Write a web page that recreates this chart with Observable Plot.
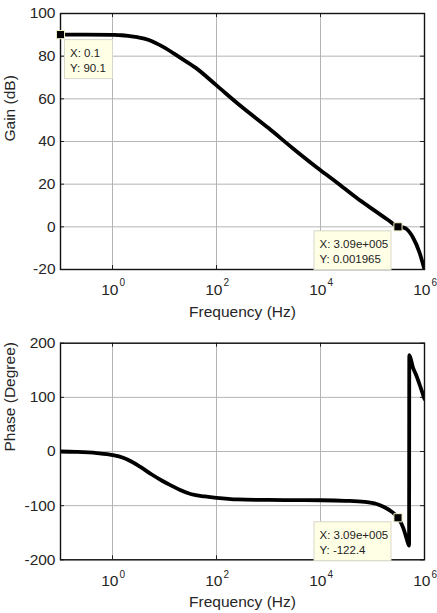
<!DOCTYPE html>
<html><head><meta charset="utf-8">
<script src="https://cdn.jsdelivr.net/npm/d3@7"></script>
<script src="https://cdn.jsdelivr.net/npm/@observablehq/plot@0.6"></script>
<style>
body{margin:0;background:#fff;}
#chart{width:437px;height:613px;}
#chart svg{display:block;overflow:visible;}
</style></head><body><div id="chart"></div>
<script>
// ---- data ----
const gainFreq = [0.1, 0.3, 1, 1.5, 2, 3, 5, 7, 10, 15, 20, 40, 100, 300, 1000, 3000, 10000, 20000, 50000, 100000, 200000, 309000, 400000, 460000, 600000, 800000, 1000000];
const gainDb   = [90.1, 90.1, 89.95, 89.8, 89.5, 88.9, 87.6, 86, 84, 81.3, 79.3, 74.5, 66.3, 56.4, 46.3, 36.6, 26.5, 21, 13.5, 8.3, 3.2, 0.001965, -0.4, -1.2, -5, -12, -20];
const phaseFreq = [0.1, 0.2, 0.5, 1, 1.6, 2.3, 3.5, 5.6, 9, 13.6, 20, 33, 60, 100, 260, 1000, 10000, 30000, 70000, 120000, 170000, 240000, 309000, 390000, 450000, 505000, 510000, 600000, 700000, 850000, 1000000];
const phaseDeg  = [0, -0.8, -3, -6.5, -11.5, -18.5, -29, -42, -54, -63, -71, -79, -83, -85.5, -88.5, -89.5, -90, -91, -93, -97, -103, -112, -122.4, -141, -160, -174, 178, 155, 140, 117, 97];
const xTicks = [1, 100, 10000, 1000000];
const gainTicks = [-20, 0, 20, 40, 60, 80, 100];
const phaseTicks = [-200, -100, 0, 100, 200];
const gainTips = [
  {x: 0.1, y: 90.1, lines: ["X: 0.1", "Y: 90.1"], side: "right"},
  {x: 309000, y: 0.001965, lines: ["X: 3.09e+005", "Y: 0.001965"], side: "left"}
];
const phaseTips = [
  {x: 309000, y: -122.4, lines: ["X: 3.09e+005", "Y: -122.4"], side: "left"}
];
const xLabel = "Frequency (Hz)";
const gainLabel = "Gain (dB)";
const phaseLabel = "Phase (Degree)";

const gain = gainFreq.map((f, i) => ({f, v: gainDb[i]}));
const phase = phaseFreq.map((f, i) => ({f, v: phaseDeg[i]}));

const FONT = "'Liberation Sans', Arial, sans-serif";
const TXT = "#262626";
const W = 437, ML = 60, MR = 13;
const PW = W - ML - MR;

function datatipBoxes(tips) {
  return (index, scales) => {
    const ns = "http://www.w3.org/2000/svg";
    const g = document.createElementNS(ns, "g");
    g.setAttribute("text-anchor", "start");
    for (const t of tips) {
      const x0 = scales.x(t.x), y0 = scales.y(t.y);
      const w = t.side === "right" ? 48 : 77, h = 39;
      const bx = t.side === "right" ? x0 + 4.5 : x0 - 6.5 - w;
      const by = t.side === "right" ? y0 + 5.5 : y0 + 4.5;
      const r = document.createElementNS(ns, "rect");
      r.setAttribute("x", bx); r.setAttribute("y", by);
      r.setAttribute("width", w); r.setAttribute("height", h);
      r.setAttribute("fill", "#ffffe6"); r.setAttribute("stroke", "#d8d8c8"); r.setAttribute("stroke-width", 1);
      g.appendChild(r);
      t.lines.forEach((s, i) => {
        const tx = document.createElementNS(ns, "text");
        tx.setAttribute("x", bx + 5.5);
        tx.setAttribute("y", by + 17.5 + i * 14.5);
        tx.setAttribute("text-anchor", "start");
        tx.setAttribute("font-family", FONT);
        tx.setAttribute("font-size", 11.5);
        tx.setAttribute("fill", "#222");
        tx.textContent = s;
        g.appendChild(tx);
      });
    }
    return g;
  };
}

function panel({data, yTicks, yDomain, yLabel, tips, height, mt, mb, tickDy}) {
  const PH = height - mt - mb;
  return Plot.plot({
    width: W, height, marginLeft: ML, marginRight: MR, marginTop: mt, marginBottom: mb,
    style: {fontFamily: FONT, background: "transparent", overflow: "visible"},
    x: {type: "log", domain: [0.1, 1e6], axis: null},
    y: {domain: yDomain, axis: null},
    marks: [
      Plot.gridX(xTicks, {stroke: "#b4b4b4", strokeOpacity: 1, strokeWidth: 1}),
      Plot.gridY(yTicks, {stroke: "#b4b4b4", strokeOpacity: 1, strokeWidth: 1}),
      Plot.tickX(xTicks, {x: d => d, stroke: "#222", insetBottom: PH - 4}),
      Plot.tickX(xTicks, {x: d => d, stroke: "#222", insetTop: PH - 4}),
      Plot.tickY(yTicks, {y: d => d, stroke: "#222", insetRight: PW - 4}),
      Plot.tickY(yTicks, {y: d => d, stroke: "#222", insetLeft: PW - 4}),
      Plot.line(data, {x: "f", y: "v", stroke: "black", strokeWidth: 3.8, curve: "monotone-x", clip: true, strokeLinejoin: "round"}),
      Plot.frame({stroke: "#111", strokeWidth: 1.4}),
      Plot.text(yTicks, {y: d => d, text: d => String(d), frameAnchor: "left", dx: -5, textAnchor: "end", lineAnchor: "middle", fontSize: 15.5, fill: TXT}),
      Plot.text(xTicks, {x: d => d, text: () => "10", frameAnchor: "bottom", dy: tickDy, dx: 6, textAnchor: "end", lineAnchor: "bottom", fontSize: 15.5, fill: TXT}),
      Plot.text(xTicks, {x: d => d, text: d => String(Math.round(Math.log10(d))), frameAnchor: "bottom", dy: tickDy - 8.5, dx: 7, textAnchor: "start", lineAnchor: "bottom", fontSize: 10, fill: TXT}),
      Plot.text([xLabel], {text: d => d, frameAnchor: "bottom", dy: 47.5, lineAnchor: "bottom", fontSize: 15.5, fill: TXT}),
      Plot.text([yLabel], {text: d => d, frameAnchor: "left", dx: -50, rotate: -90, lineAnchor: "middle", fontSize: 15.5, fill: TXT}),
      Plot.dot(tips, {x: "x", y: "y", symbol: "square", r: 4.6, fill: "black", stroke: "#f4f4c8", strokeWidth: 1}),
      datatipBoxes(tips)
    ]
  });
}

const gainChart = panel({data: gain, yTicks: gainTicks, yDomain: [-20, 100], yLabel: gainLabel, tips: gainTips, height: 330, mt: 13, mb: 61, tickDy: 25});
const phaseChart = panel({data: phase, yTicks: phaseTicks, yDomain: [-200, 200], yLabel: phaseLabel, tips: phaseTips, height: 283, mt: 12.7, mb: 53.7, tickDy: 26.5});
const holder = document.getElementById("chart");
holder.appendChild(gainChart);
holder.appendChild(phaseChart);
</script>
</body></html>
